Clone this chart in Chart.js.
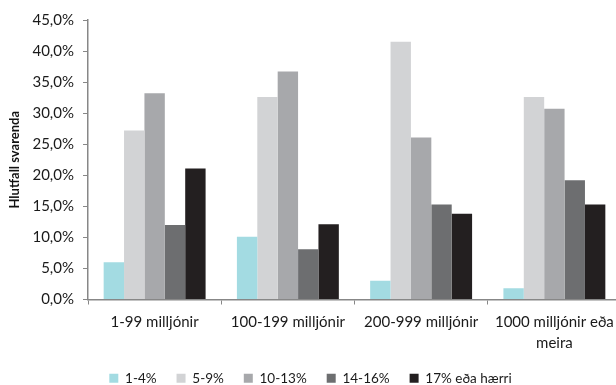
<!DOCTYPE html>
<html>
<head>
<meta charset="utf-8">
<script src="https://cdn.jsdelivr.net/npm/chart.js@4"></script>
<style>
  html, body { margin: 0; padding: 0; background: #fff; overflow: hidden; }
  #wrap { width: 621px; height: 385px; position: relative; }
</style>
</head>
<body>
<div id="wrap"><canvas id="chart"></canvas></div>
<script>
// categories (company size) and answer groups
const categories = ["1-99 milljónir", "100-199 milljónir", "200-999 milljónir", ["1000 milljónir eða", "meira"]];
const seriesNames = ["1-4%", "5-9%", "10-13%", "14-16%", "17% eða hærri"];

// percent of respondents, one array per series
const vals1to4   = [6.0, 10.1, 3.0, 1.8];
const vals5to9   = [27.2, 32.6, 41.5, 32.6];
const vals10to13 = [33.2, 36.7, 26.1, 30.7];
const vals14to16 = [12.0, 8.1, 15.3, 19.2];
const vals17plus = [21.1, 12.1, 13.8, 15.3];

const yTicksMax = 45;
const yTicksStep = 5;

const colours = ["#a3dbe2", "#d2d3d5", "#a7a8ab", "#6d6e70", "#231f20"];
const axisCol = "#878787";
const fontName = "Lato";

function makeSet(name, data, i)
{
	return { label: name, data: data, backgroundColor: colours[i], borderWidth: 0,
		categoryPercentage: 0.765, barPercentage: 1.0 };
}

let allVals = [vals1to4, vals5to9, vals10to13, vals14to16, vals17plus];
let sets = [];
for (let i = 0; i < seriesNames.length; i++)
	sets.push(makeSet(seriesNames[i], allVals[i], i));

new Chart(document.getElementById("chart"), {
	type: "bar",
	data: { labels: categories, datasets: sets },
	options: {
		responsive: true,
		maintainAspectRatio: false,
		animation: false,
		layout: { padding: { top: 20, right: 0, bottom: -10, left: 0 } },
		plugins: {
			tooltip: { enabled: false },
			legend: {
				position: "bottom",
				labels: { boxWidth: 9, boxHeight: 9, padding: 20, color: "#1a1a1a",
					font: { family: fontName, size: 13.5 } }
			}
		},
		scales: {
			x: {
				grid: { drawOnChartArea: false, drawTicks: true, tickLength: 5, color: axisCol, offset: true },
				border: { color: axisCol, width: 1.5 },
				ticks: { color: "#1a1a1a", padding: 7, maxRotation: 0, autoSkip: false,
					font: { family: fontName, size: 15, lineHeight: 1.4 } },
				afterFit: function(scale) { scale.height = 52; }
			},
			y: {
				min: 0, max: yTicksMax,
				grid: { drawOnChartArea: false, drawTicks: true, tickLength: 5, color: axisCol },
				border: { color: axisCol, width: 1.5 },
				ticks: { stepSize: yTicksStep, color: "#1a1a1a", padding: 9,
					font: { family: fontName, size: 15 },
					callback: (v) => v.toFixed(1).replace(".", ",") + "%" },
				title: { display: true, text: "Hlutfall svarenda", color: "#111",
					font: { family: fontName, size: 13, weight: "bold" }, padding: { top: 7, bottom: 0 } },
				afterFit: function(scale) { scale.width = 88; }
			}
		}
	}
});
</script>
</body>
</html>
